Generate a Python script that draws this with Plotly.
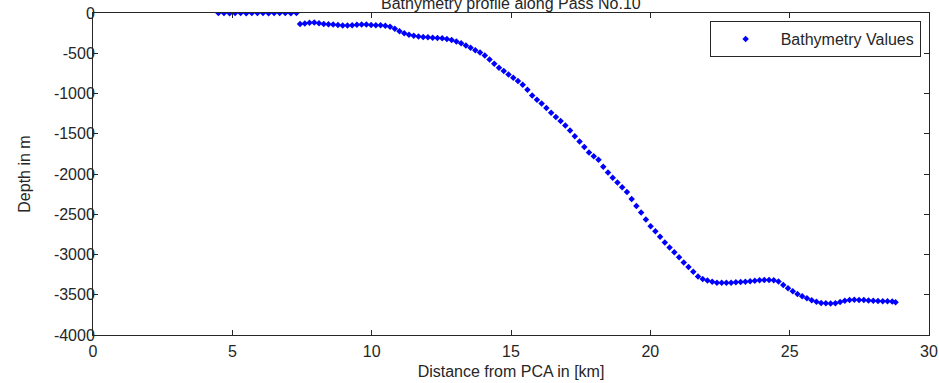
import plotly.graph_objects as go

# Shallow segment (near-zero depth)
dist_shelf = [4.50, 4.70, 4.90, 5.10, 5.30, 5.50, 5.70, 5.90, 6.10, 6.30, 6.50, 6.70, 6.90, 7.10, 7.30]
depth_shelf = [0, 0, -3, 0, 0, -2, 0, 0, 0, -3, 0, 0, 0, -2, 0]

# Main profile
dist_main = [7.43, 7.60, 7.77, 7.94, 8.11, 8.28, 8.45, 8.62, 8.79, 8.96, 9.13, 9.30, 9.47, 9.64, 9.81,
             9.98, 10.15, 10.32, 10.49, 10.66, 10.83, 11.00, 11.17, 11.34, 11.51, 11.68, 11.85, 12.02,
             12.19, 12.36, 12.53, 12.70, 12.87, 13.04, 13.21, 13.38, 13.55, 13.72, 13.89, 14.06, 14.23,
             14.40, 14.57, 14.74, 14.91, 15.08, 15.25, 15.42, 15.59, 15.76, 15.93, 16.10, 16.27, 16.44,
             16.61, 16.78, 16.95, 17.12, 17.29, 17.46, 17.63, 17.80, 17.97, 18.14, 18.31, 18.48, 18.65,
             18.82, 18.99, 19.16, 19.33, 19.50, 19.67, 19.84, 20.01, 20.18, 20.35, 20.52, 20.69, 20.86,
             21.03, 21.20, 21.37, 21.54, 21.71, 21.88, 22.05, 22.22, 22.39, 22.56, 22.73, 22.90, 23.07,
             23.24, 23.41, 23.58, 23.75, 23.92, 24.09, 24.26, 24.43, 24.60, 24.77, 24.94, 25.11, 25.28,
             25.45, 25.62, 25.79, 25.96, 26.13, 26.30, 26.47, 26.64, 26.81, 26.98, 27.15, 27.32, 27.49,
             27.66, 27.83, 28.00, 28.17, 28.34, 28.51, 28.68, 28.80]
depth_main = [-137, -130, -122, -118, -128, -138, -140, -144, -149, -156, -155, -151, -146, -143, -142,
              -148, -151, -153, -159, -172, -196, -228, -250, -270, -282, -291, -297, -302,
              -306, -310, -314, -322, -334, -353, -377, -404, -433, -462, -492, -528, -578,
              -630, -679, -722, -764, -804, -845, -892, -952, -1024, -1078, -1125, -1181, -1240,
              -1292, -1341, -1398, -1460, -1530, -1595, -1665, -1732, -1778, -1823, -1909, -1982, -2047,
              -2106, -2164, -2225, -2312, -2397, -2478, -2566, -2650, -2710, -2778, -2851, -2912, -2973,
              -3035, -3100, -3156, -3214, -3272, -3305, -3322, -3337, -3350, -3352, -3350, -3350, -3346,
              -3341, -3337, -3333, -3327, -3320, -3316, -3318, -3320, -3335, -3379, -3420, -3458, -3490,
              -3518, -3545, -3567, -3588, -3602, -3607, -3608, -3606, -3590, -3574, -3565, -3563, -3564,
              -3566, -3570, -3575, -3578, -3580, -3581, -3585, -3594]

x_ticks = [0, 5, 10, 15, 20, 25, 30]
y_ticks = [-4000, -3500, -3000, -2500, -2000, -1500, -1000, -500, 0]
y_tick_labels = ["-4000", "-3500", "-3000", "-2500", "-2000", "-1500", "-1000", "-500", "0"]

FONT = "Liberation Sans, Arial, sans-serif"
FS = 16
AX = "#262626"

fig = go.Figure()
fig.add_trace(go.Scatter(
    x=dist_shelf + dist_main, y=depth_shelf + depth_main,
    mode="markers", name="Bathymetry Values",
    marker=dict(symbol="diamond", size=5, color="#0000ff", line=dict(width=0)),
))

axis_common = dict(
    showgrid=False, zeroline=False, showline=True, linecolor=AX, linewidth=1,
    mirror="allticks", ticks="inside", ticklen=5, tickcolor=AX, tickwidth=1,
    tickfont=dict(family=FONT, size=FS, color=AX), automargin=False,
)

fig.update_layout(
    width=939, height=383,
    margin=dict(l=93, r=10, t=13, b=48),
    paper_bgcolor="white", plot_bgcolor="white",
    font=dict(family=FONT, size=FS, color=AX),
    xaxis=dict(range=[0, 30], tickvals=x_ticks, ticklabelstandoff=2,
               title=dict(text="Distance from PCA in [km]", standoff=6,
                          font=dict(family=FONT, size=FS, color=AX)),
               **axis_common),
    yaxis=dict(range=[-4000, 0], tickvals=y_ticks, ticktext=y_tick_labels,
               ticklabelstandoff=-6,
               title=dict(text="Depth in m", standoff=19,
                          font=dict(family=FONT, size=FS, color=AX)),
               **axis_common),
    legend=dict(x=0.990, y=0.975, xanchor="right", yanchor="top",
                bordercolor=AX, borderwidth=1, bgcolor="white",
                font=dict(family=FONT, size=FS, color=AX), itemwidth=60),
    showlegend=True,
    annotations=[dict(text="Bathymetry profile along Pass No.10", xref="paper", yref="paper",
                      x=0.5, y=1, xanchor="center", yanchor="bottom", yshift=-1,
                      showarrow=False, font=dict(family=FONT, size=FS, color=AX))],
)

fig.write_html("out.html", config={"displayModeBar": False},
               post_script="document.body.style.margin='0';")
